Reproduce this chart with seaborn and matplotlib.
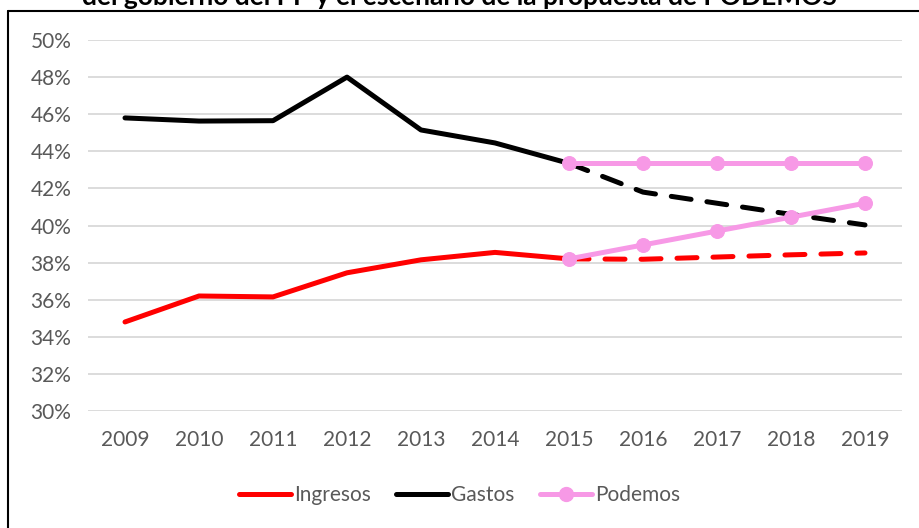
import matplotlib
matplotlib.use("Agg")
import matplotlib.pyplot as plt
from matplotlib.lines import Line2D
import seaborn as sns
import pandas as pd

# ---- data ----
years_hist = [2009, 2010, 2011, 2012, 2013, 2014, 2015]
years_proj = [2015, 2016, 2017, 2018, 2019]
ingresos_hist = [34.8, 36.2, 36.15, 37.45, 38.15, 38.55, 38.2]
gastos_hist = [45.8, 45.63, 45.65, 48.0, 45.15, 44.45, 43.35]
ingresos_proj = [38.2, 38.18, 38.3, 38.42, 38.52]
gastos_proj = [43.35, 41.8, 41.2, 40.6, 40.03]
podemos_gastos = [43.35, 43.35, 43.35, 43.35, 43.35]
podemos_ingresos = [38.2, 38.95, 39.7, 40.45, 41.2]
year_ticks = [2009, 2010, 2011, 2012, 2013, 2014, 2015, 2016, 2017, 2018, 2019]
y_ticks = [30, 32, 34, 36, 38, 40, 42, 44, 46, 48, 50]
title = "del gobierno del PP y el escenario de la propuesta de PODEMOS"

sns.set_theme(style="white")
plt.rcParams['font.family'] = ['Lato', 'DejaVu Sans']

RED = "#FF0000"
BLACK = "#000000"
PINK = "#F799E6"
GRAY = "#595959"
LW = 3.6
FS = 15

fig = plt.figure(figsize=(9.19, 5.28), dpi=100)
ax = fig.add_axes([88/919, 1-411/528, (902-88)/919, (411-40)/528])

df_ih = pd.DataFrame({"year": years_hist, "v": ingresos_hist})
df_gh = pd.DataFrame({"year": years_hist, "v": gastos_hist})
df_ip = pd.DataFrame({"year": years_proj, "v": ingresos_proj})
df_gp = pd.DataFrame({"year": years_proj, "v": gastos_proj})
df_pg = pd.DataFrame({"year": years_proj, "v": podemos_gastos})
df_pi = pd.DataFrame({"year": years_proj, "v": podemos_ingresos})

for d, c in [(df_ih, RED), (df_gh, BLACK)]:
    sns.lineplot(data=d, x="year", y="v", ax=ax, color=c, linewidth=LW,
                 legend=False, solid_capstyle="round", solid_joinstyle="round")
for d, c in [(df_ip, RED), (df_gp, BLACK)]:
    sns.lineplot(data=d, x="year", y="v", ax=ax, color=c, linewidth=LW,
                 legend=False, linestyle=(0, (4, 3.2)), dash_capstyle="round")
for d in [df_pg, df_pi]:
    sns.lineplot(data=d, x="year", y="v", ax=ax, color=PINK, linewidth=LW,
                 marker="o", markersize=10, markeredgecolor=PINK,
                 legend=False, solid_capstyle="round")

ax.set_xlim(2008.5, 2019.5)
ax.set_ylim(30, 50)
ax.set_xticks(year_ticks)
ax.set_xticklabels([str(y) for y in year_ticks])
ax.set_yticks(y_ticks)
ax.set_yticklabels([f"{y}%" for y in y_ticks])
ax.set_xlabel("")
ax.set_ylabel("")
ax.grid(axis="y", color="#D9D9D9", linewidth=1.3)
ax.set_axisbelow(True)
for s in ax.spines.values():
    s.set_visible(False)
ax.tick_params(axis="both", length=0, labelsize=FS, colors=GRAY, labelcolor=GRAY)
ax.tick_params(axis="x", pad=14)
ax.tick_params(axis="y", pad=12)

handles = [
    Line2D([], [], color=RED, linewidth=LW, solid_capstyle="round"),
    Line2D([], [], color=BLACK, linewidth=LW, solid_capstyle="round"),
    Line2D([], [], color=PINK, linewidth=LW, marker="o", markersize=10,
           solid_capstyle="round"),
]
leg = fig.legend(handles, ["Ingresos", "Gastos", "Podemos"], loc="center",
                 bbox_to_anchor=(0.5, 1-495/528), ncol=3, frameon=False,
                 fontsize=FS, handlelength=2.5, handletextpad=0.15,
                 columnspacing=1.2, labelcolor=GRAY)

# chart border (partially outside the image)
fig.add_artist(Line2D([8/919, 8/919], [0, 1-11/528], color="black", linewidth=1.5,
                      transform=fig.transFigure))
fig.add_artist(Line2D([8/919, 1], [1-11/528, 1-11/528], color="black", linewidth=1.5,
                      transform=fig.transFigure))

fig.text(0.5, 1-5/528, title, ha="center", va="baseline", fontsize=19,
         fontweight="bold", color="black")

fig.savefig("out.png", dpi=100)
